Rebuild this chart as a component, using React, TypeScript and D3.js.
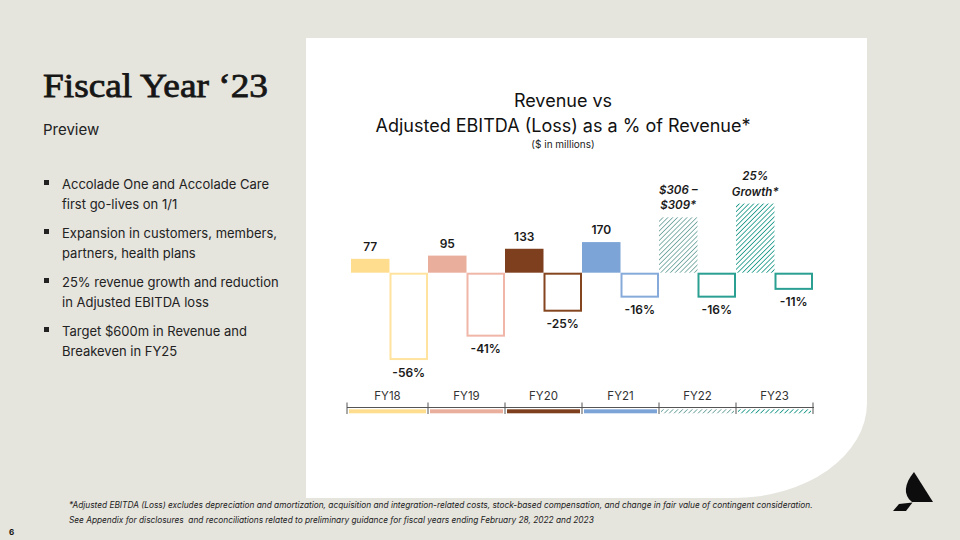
import React from "react";
import * as d3 from "d3";

const years = ["FY18", "FY19", "FY20", "FY21", "FY22", "FY23"];
const revenue = [77, 95, 133, 170, 307.5, 384];
const revenueLabels = [["77"], ["95"], ["133"], ["170"], ["$306 –", "$309*"], ["25%", "Growth*"]];
const ebitdaPct = [-56, -41, -25, -16, -16, -11];
const ebitdaLabels = ["-56%", "-41%", "-25%", "-16%", "-16%", "-11%"];
const fills = ["#FFDD8F", "#E9AE9C", "#7E3F1F", "#7CA4D6", "url(#hatch22)", "url(#hatch23)"];
const strokes = ["#FFE39E", "#F0B6A8", "#84451F", "#86ABDB", "#2A9F92", "#2A9F92"];
const bullets = [
  ["Accolade One and Accolade Care", "first go-lives on 1/1"],
  ["Expansion in customers, members,", "partners, health plans"],
  ["25% revenue growth and reduction", "in Adjusted EBITDA loss"],
  ["Target $600m in Revenue and", "Breakeven in FY25"],
];
const footnotes = [
  "*Adjusted EBITDA (Loss) excludes depreciation and amortization, acquisition and integration-related costs, stock-based compensation, and change in fair value of contingent consideration.",
  "See Appendix for disclosures  and reconciliations related to preliminary guidance for fiscal years ending February 28, 2022 and 2023",
];

const SANS = "Inter, 'DejaVu Sans', sans-serif";
const BASE = 272.7;

export default function App() {
  const x = d3.scaleBand<string>().domain(years).range([351, 813]).paddingInner(0);
  const bw = x.bandwidth() / 2;
  const yRev = d3.scaleLinear().domain([0, 400]).range([BASE, BASE - 72]);
  const yPct = d3.scaleLinear().domain([0, -60]).range([BASE, BASE + 93.6]);
  const edges = [...years.map((y) => x(y) as number), 813];

  return (
    <svg
      width={960}
      height={540}
      style={{ position: "absolute", left: 0, top: 0, display: "block" }}
      fontFamily={SANS}
    >
      <defs>
        <pattern id="hatch22" patternUnits="userSpaceOnUse" width={3.4} height={3.4} patternTransform="rotate(45)">
          <rect width={3.4} height={3.4} fill="#fff" />
          <line x1={0} y1={0} x2={0} y2={3.4} stroke="#24756C" strokeWidth={1.1} />
        </pattern>
        <pattern id="hatch23" patternUnits="userSpaceOnUse" width={3.4} height={3.4} patternTransform="rotate(45)">
          <rect width={3.4} height={3.4} fill="#fff" />
          <line x1={0} y1={0} x2={0} y2={3.4} stroke="#1F9A8B" strokeWidth={1.7} />
        </pattern>
      </defs>
      <rect width={960} height={540} fill="#E5E4DD" />
      {/* white panel with rounded bottom-right corner */}
      <path d="M306,38 L867,38 L867,403 A134,95 0 0 1 733,498 L306,498 Z" fill="#ffffff" />

      {/* left text */}
      <text
        x={43}
        y={97}
        fontFamily="'Liberation Serif', 'DejaVu Serif', serif"
        fontWeight={400}
        fontSize={34}
        fill="#161616"
        stroke="#161616"
        strokeWidth={0.8}
        textLength={225}
        lengthAdjust="spacingAndGlyphs"
      >
        Fiscal Year ‘23
      </text>
      <text x={43} y={135} fontSize={15} fill="#222">Preview</text>
      {bullets.map((b, i) => (
        <g key={i}>
          <rect x={44} y={180 + i * 49} width={5} height={5} fill="#222" />
          {b.map((line, j) => (
            <text key={j} x={62} y={188.5 + i * 49 + j * 20} fontSize={13} fill="#222">
              {line}
            </text>
          ))}
        </g>
      ))}

      {/* chart titles */}
      <text x={563} y={107} textAnchor="middle" fontSize={18} fill="#111">Revenue vs</text>
      <text x={563} y={132} textAnchor="middle" fontSize={18} fill="#111">Adjusted EBITDA (Loss) as a % of Revenue*</text>
      <text x={563} y={148} textAnchor="middle" fontSize={10} fill="#222">($ in millions)</text>

      {/* revenue bars */}
      {years.map((yr, i) => (
        <rect key={"r" + yr} x={x(yr)} y={yRev(revenue[i])} width={bw} height={BASE - yRev(revenue[i])} fill={fills[i]} />
      ))}
      {/* ebitda outline bars */}
      {years.map((yr, i) => (
        <rect
          key={"e" + yr}
          x={(x(yr) as number) + bw + 1}
          y={BASE + 1}
          width={bw - 2}
          height={yPct(ebitdaPct[i]) - BASE - 2}
          fill="#fff"
          stroke={strokes[i]}
          strokeWidth={2}
        />
      ))}
      {/* revenue labels */}
      {years.map((yr, i) => {
        const lines = revenueLabels[i];
        const italic = lines.length > 1;
        const top = yRev(revenue[i]);
        return (
          <text
            key={"rl" + yr}
            x={(x(yr) as number) + bw / 2}
            textAnchor="middle"
            fontSize={italic ? 11.5 : 12}
            fontWeight={600}
            fontStyle={italic ? "italic" : "normal"}
            fill="#1a1a1a"
            style={{ whiteSpace: "pre" }}
          >
            {lines.map((l, j) => (
              <tspan key={j} x={(x(yr) as number) + bw / 2} y={top - 8 - (lines.length - 1 - j) * 15.5}>
                {l}
              </tspan>
            ))}
          </text>
        );
      })}
      {/* ebitda labels */}
      {years.map((yr, i) => (
        <text
          key={"el" + yr}
          x={(x(yr) as number) + bw * 1.5}
          y={yPct(ebitdaPct[i]) + 16.5}
          textAnchor="middle"
          fontSize={12}
          fontWeight={600}
          fill="#1a1a1a"
        >
          {ebitdaLabels[i]}
        </text>
      ))}

      {/* axis */}
      <line x1={edges[0] - 4} x2={edges[6] + 1} y1={407.5} y2={407.5} stroke="#555" strokeWidth={1} />
      {edges.map((e, i) => (
        <line key={"t" + i} x1={i === 0 ? e - 4 : e} x2={i === 0 ? e - 4 : e} y1={402.5} y2={414} stroke="#555" strokeWidth={1} />
      ))}
      {years.map((yr, i) => {
        const x0 = i === 0 ? (x(yr) as number) - 4 : (x(yr) as number);
        const x1 = (x(yr) as number) + x.bandwidth();
        return (
          <g key={"a" + yr}>
            <rect x={x0 + 2} y={409.3} width={x1 - x0 - 4} height={4} fill={fills[i]} />
            <text x={(x0 + x1) / 2} y={400} textAnchor="middle" fontSize={11.5} fill="#333">
              {yr}
            </text>
          </g>
        );
      })}

      {/* footnotes */}
      {footnotes.map((f, i) => (
        <text key={"f" + i} x={69} y={508 + i * 15} fontSize={8.3} fontStyle="italic" fill="#222" style={{ whiteSpace: "pre" }}>
          {f}
        </text>
      ))}
      <text x={9} y={535} fontSize={8} fontWeight={700} fill="#111">6</text>

      {/* logo */}
      <path d="M914,472 L933,502 L912,502 C903,495 904,484 914,472 Z" fill="#0d0d0d" />
      <path d="M893,511 L899,504 L912.5,502.5 L906,511 Z" fill="#0d0d0d" />
    </svg>
  );
}
